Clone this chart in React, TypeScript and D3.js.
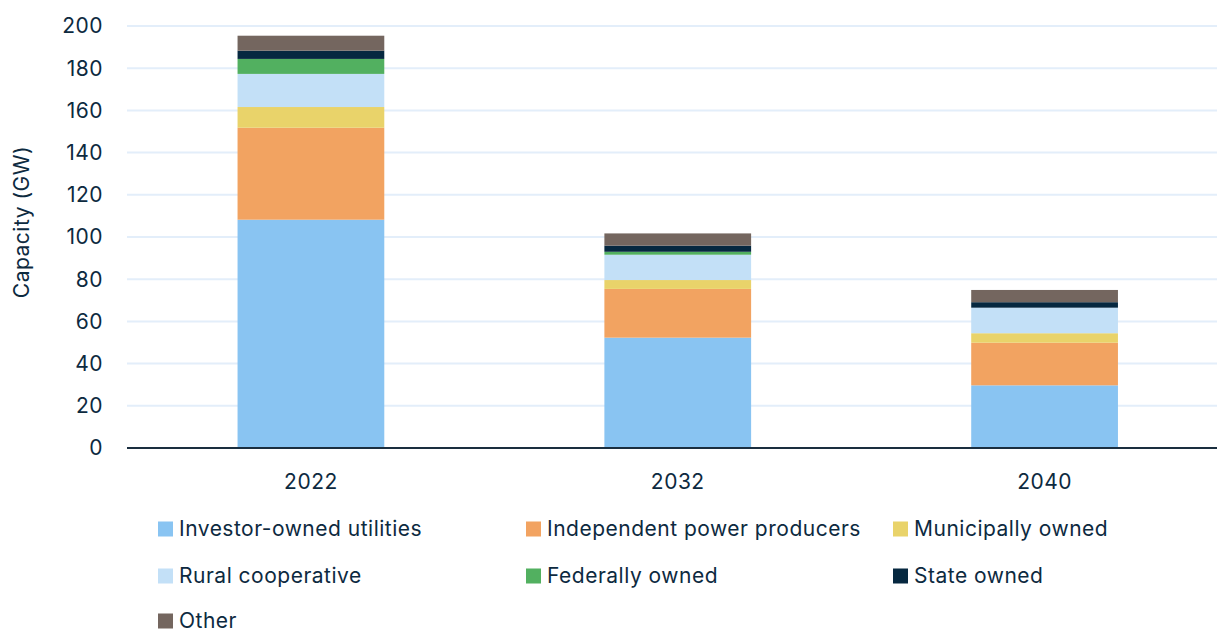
import React from "react";
import * as d3 from "d3";

const years = ["2022", "2032", "2040"];
const seriesNames = [
  "Investor-owned utilities",
  "Independent power producers",
  "Municipally owned",
  "Rural cooperative",
  "Federally owned",
  "State owned",
  "Other",
];
const investorOwned = [108.2, 52.3, 29.7];
const independentProducers = [43.6, 23.1, 20.2];
const municipallyOwned = [9.8, 4.2, 4.5];
const ruralCooperative = [15.7, 12.0, 12.1];
const federallyOwned = [7.1, 1.4, 0];
const stateOwned = [3.9, 2.9, 2.6];
const other = [7.1, 5.8, 5.8];
const yTicks = [0, 20, 40, 60, 80, 100, 120, 140, 160, 180, 200];

const colors = ["#89c4f2", "#f2a361", "#e9d36a", "#c3e0f7", "#52b060", "#062840", "#74665f"];

const W = 1217;
const H = 633;
const FONT = "Inter, 'Noto Sans', sans-serif";
const TEXT = "#0d2a3f";
const FS = 21;
const LS = 0.5;

export default function App() {
  const values = [investorOwned, independentProducers, municipallyOwned, ruralCooperative, federallyOwned, stateOwned, other];
  const rows = years.map((y, i) => {
    const r: any = { year: y };
    seriesNames.forEach((s, k) => (r[s] = values[k][i]));
    return r;
  });
  const stack = d3.stack<any>().keys(seriesNames)(rows);

  const y = d3.scaleLinear().domain([0, 200]).range([448, 26]);
  const x = d3.scaleBand().domain(years).range([127.5, 1228]).paddingInner(0.6).paddingOuter(0.3);

  const legendCols = [158, 526, 893];
  const legendRows = [529, 576, 621];

  return (
    <svg width={W} height={H} style={{ position: "absolute", left: 0, top: 0, background: "#fff" }}>
      {yTicks.slice(1).map((t) => (
        <line key={t} x1={127} x2={W} y1={y(t)} y2={y(t)} stroke="#e3eefa" strokeWidth={2} />
      ))}
      {stack.map((layer, k) => (
        <g key={k} fill={colors[k]}>
          {layer.map((d: any, i: number) => (
            <rect
              key={i}
              x={x(years[i])}
              width={x.bandwidth()}
              y={y(d[1])}
              height={Math.max(0, y(d[0]) - y(d[1]))}
            />
          ))}
        </g>
      ))}
      <line x1={127} x2={W} y1={448} y2={448} stroke="#1a2e3f" strokeWidth={2} />
      {yTicks.map((t) => (
        <text key={t} x={103} y={y(t)} dy="0.35em" textAnchor="end" fontFamily={FONT} fontSize={FS} letterSpacing={LS} fill={TEXT}>
          {t}
        </text>
      ))}
      {years.map((yr) => (
        <text key={yr} x={(x(yr) as number) + x.bandwidth() / 2} y={489} textAnchor="middle" fontFamily={FONT} fontSize={FS} letterSpacing={LS} fill={TEXT}>
          {yr}
        </text>
      ))}
      <text transform={`translate(29,222) rotate(-90)`} textAnchor="middle" fontFamily={FONT} fontSize={FS} letterSpacing={LS} fill={TEXT}>
        Capacity (GW)
      </text>
      {seriesNames.map((s, k) => {
        const cx = legendCols[k % 3];
        const cy = legendRows[Math.floor(k / 3)];
        return (
          <g key={s}>
            <rect x={cx} y={cy - 7.5} width={15} height={15} fill={colors[k]} />
            <text x={cx + 21} y={cy} dy="0.34em" fontFamily={FONT} fontSize={FS} letterSpacing={LS} fill={TEXT}>
              {s}
            </text>
          </g>
        );
      })}
    </svg>
  );
}
